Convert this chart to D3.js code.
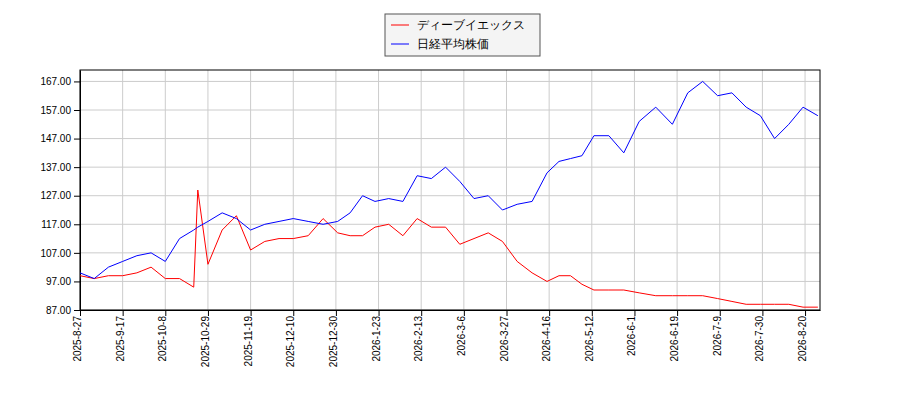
<!DOCTYPE html>
<html><head><meta charset="utf-8">
<script src="https://cdn.jsdelivr.net/npm/d3@7"></script>
<style>body{margin:0;background:#fff;font-family:"DejaVu Sans",sans-serif}</style>
</head><body><svg id="c" width="900" height="400"></svg>
<script>
var dates = ['2025-08-27','2025-09-03','2025-09-10','2025-09-17','2025-09-24','2025-10-01','2025-10-08','2025-10-15','2025-10-22','2025-10-24','2025-10-29',
'2025-11-05','2025-11-12','2025-11-19','2025-11-26','2025-12-03','2025-12-10','2025-12-17','2025-12-24','2025-12-31',
'2026-01-07','2026-01-14','2026-01-21','2026-01-28','2026-02-04','2026-02-11','2026-02-18','2026-02-25','2026-03-04','2026-03-11','2026-03-18','2026-03-25',
'2026-04-01','2026-04-08','2026-04-15','2026-04-22','2026-04-29','2026-05-06','2026-05-13','2026-05-20','2026-05-27',
'2026-06-03','2026-06-10','2026-06-17','2026-06-24','2026-07-01','2026-07-08','2026-07-15','2026-07-22','2026-07-29',
'2026-08-05','2026-08-12','2026-08-19','2026-08-26'];
var stock = [99,98,99,99,100,102,98,98,95,129,103,115,120,108,111,112,112,113,119,114,113,113,116,117,113,119,116,116,110,112,114,111,104,100,97,99,99,96,94,94,94,93,92,92,92,92,91,90,89,89,89,89,88,88];
var nikkei = [100,98,102,104,106,107,104,112,115,116,118,121,119,115,117,118,119,118,117,118,121,127,125,126,125,134,133,137,132,126,127,122,124,125,135,139,140,141,148,148,142,153,158,152,163,167,162,163,158,155,147,152,158,155];
var tickLabels = ['2025-8-27','2025-9-17','2025-10-8','2025-10-29','2025-11-19','2025-12-10','2025-12-30','2026-1-23','2026-2-13','2026-3-6','2026-3-27','2026-4-16','2026-5-12','2026-6-1','2026-6-19','2026-7-9','2026-7-30','2026-8-20'];
var yTicks = [87,97,107,117,127,137,147,157,167];

var p = d3.timeParse('%Y-%m-%d'), pt = d3.timeParse('%Y-%-m-%-d');
var svg = d3.select('#c');
// trading-day axis: tick dates are evenly spaced
var step = 42.65;
var xDom = tickLabels.map(pt).concat([p('2026-08-27')]);
var xRng = tickLabels.map((d, i) => 80 + i * step).concat([820]);
var x = d3.scaleTime().domain(xDom).range(xRng);
var y = d3.scaleLinear().domain([87, 171]).range([310, 70]);

svg.append('g').selectAll('line.v').data(tickLabels).enter().append('line')
  .attr('x1', d => x(pt(d))).attr('x2', d => x(pt(d))).attr('y1', 70).attr('y2', 310).attr('stroke', '#ccc');
svg.append('g').selectAll('line.h').data(yTicks).enter().append('line')
  .attr('x1', 80).attr('x2', 820).attr('y1', d => y(d)).attr('y2', d => y(d)).attr('stroke', '#ccc');

svg.append('g').attr('transform', 'translate(80,0)')
  .call(d3.axisLeft(y).tickValues(yTicks).tickFormat(d3.format('.2f')).tickSizeOuter(0))
  .call(g => g.selectAll('text').attr('font-size', 10).attr('fill', '#000'));
var xa = svg.append('g').attr('transform', 'translate(0,310)')
  .call(d3.axisBottom(x).tickValues(tickLabels.map(pt)).tickFormat((d, i) => tickLabels[i]).tickSizeOuter(0));
xa.selectAll('text').attr('font-size', 10).attr('fill', '#000')
  .attr('transform', 'rotate(-90)').attr('text-anchor', 'end').attr('x', -6).attr('y', -3).attr('dy', '0.35em');
svg.append('rect').attr('x', 80).attr('y', 70).attr('width', 740).attr('height', 240).attr('fill', 'none').attr('stroke', '#000');

var line = d3.line().x((d, i) => x(p(dates[i]))).y(d => y(d));
svg.append('path').datum(stock).attr('d', line).attr('fill', 'none').attr('stroke', 'red').attr('stroke-width', 1);
svg.append('path').datum(nikkei).attr('d', line).attr('fill', 'none').attr('stroke', 'blue').attr('stroke-width', 1);

var lg = svg.append('g');
lg.append('rect').attr('x', 385).attr('y', 14).attr('width', 155).attr('height', 42).attr('fill', '#f4f4f4').attr('stroke', '#555');
[['ディーブイエックス', 'red'], ['日経平均株価', 'blue']].forEach(function (d, i) {
  lg.append('line').attr('x1', 391).attr('x2', 409).attr('y1', 25 + i * 19).attr('y2', 25 + i * 19).attr('stroke', d[1]);
  lg.append('text').attr('x', 417).attr('y', 29 + i * 19).attr('font-size', 12).text(d[0]);
});
</script></body></html>
